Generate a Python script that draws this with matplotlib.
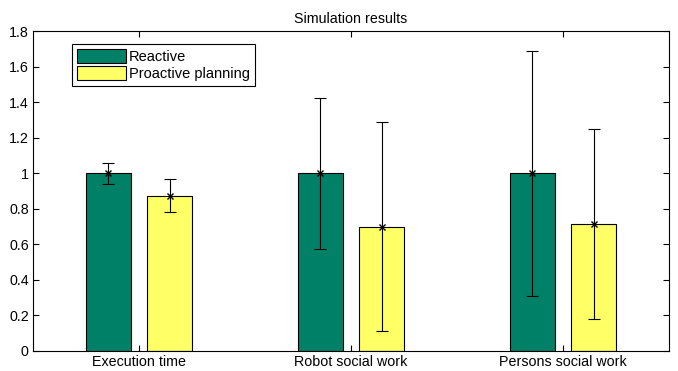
import matplotlib
matplotlib.use("Agg")
import matplotlib.pyplot as plt
import numpy as np

categories = ["Execution time", "Robot social work", "Persons social work"]
reactive = [1.0, 1.0, 1.0]
reactive_err = [0.06, 0.425, 0.69]
proactive = [0.875, 0.70, 0.715]
proactive_err = [0.095, 0.59, 0.535]

plt.rcParams['font.family'] = ['Liberation Sans', 'DejaVu Sans']

fig = plt.figure(figsize=(6.78, 3.71), dpi=100)
ax = fig.add_axes([0.0487, 0.054, 0.938, 0.862])

x = np.arange(1, len(categories) + 1)
w = 0.21
off = 0.145

ax.bar(x - off, reactive, w, color="#008066", edgecolor="black", linewidth=0.8, label="Reactive")
ax.bar(x + off, proactive, w, color="#FFFF66", edgecolor="black", linewidth=0.8, label="Proactive planning")
ax.errorbar(x - off, reactive, yerr=reactive_err, fmt="x", color="black", ms=5,
            elinewidth=0.8, capsize=4, capthick=0.8)
ax.errorbar(x + off, proactive, yerr=proactive_err, fmt="x", color="black", ms=5,
            elinewidth=0.8, capsize=4, capthick=0.8)

ax.set_xlim(0.5, 3.5)
ax.set_ylim(0, 1.8)
ax.set_xticks(x)
ax.set_xticklabels(categories)
ax.set_yticks(np.arange(0, 1.81, 0.2))
ax.set_yticklabels(["0", "0.2", "0.4", "0.6", "0.8", "1", "1.2", "1.4", "1.6", "1.8"])
ax.tick_params(direction="in", top=True, right=True, labelsize=10.3, length=4, pad=3)
ax.set_title("Simulation results", fontsize=10.3, pad=6)

leg = ax.legend(loc="upper left", bbox_to_anchor=(0.055, 0.975), fontsize=10.5,
                fancybox=False, edgecolor="black", framealpha=1,
                handlelength=3.3, handleheight=1.1, borderpad=0.35, labelspacing=0.15,
                handletextpad=0.25, borderaxespad=0.3)
leg.get_frame().set_linewidth(0.8)

fig.savefig("out.png", dpi=100)
